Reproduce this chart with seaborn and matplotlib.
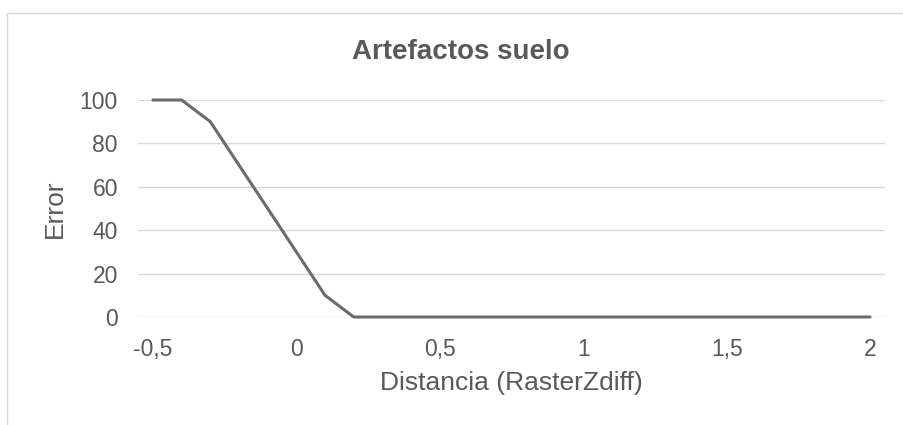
import matplotlib
matplotlib.use("Agg")
import matplotlib.pyplot as plt
import seaborn as sns
import pandas as pd
from matplotlib.ticker import FuncFormatter
from matplotlib.patches import Rectangle

distancia = [-0.5, -0.4, -0.3, -0.2, -0.1, 0.0, 0.1, 0.2, 0.3, 0.4, 0.5, 0.6, 0.7,
             0.8, 0.9, 1.0, 1.1, 1.2, 1.3, 1.4, 1.5, 1.6, 1.7, 1.8, 1.9, 2.0]
error = [100, 100, 90, 70, 50, 30, 10, 0, 0, 0, 0, 0, 0,
         0, 0, 0, 0, 0, 0, 0, 0, 0, 0, 0, 0, 0]
x_ticks = [-0.5, 0, 0.5, 1, 1.5, 2]
y_ticks = [0, 20, 40, 60, 80, 100]

df = pd.DataFrame({"Distancia": distancia, "Error": error})

sns.set_theme(style="white")
plt.rcParams['font.family'] = ['Liberation Sans', 'DejaVu Sans']

text_c = "#595959"
grid_c = "#d9d9d9"
line_c = "#6b6b6b"

fig = plt.figure(figsize=(9.04, 4.25), dpi=100)
fig.patches.append(Rectangle((7/904, -0.1), 1.2, 1 - 13/425 + 0.1, transform=fig.transFigure,
                             fill=False, edgecolor="#d9d9d9", linewidth=1.0))
ax = fig.add_axes([138/904, 1 - 317/425, (885 - 138)/904, (317 - 100)/425])

for yt in y_ticks:
    ax.axhline(yt, color=grid_c, linewidth=1.0, zorder=1)

sns.lineplot(data=df, x="Distancia", y="Error", ax=ax, color=line_c, linewidth=2.2,
             zorder=3, clip_on=False)

ax.set_xlim(-0.552, 2.052)
ax.set_ylim(0, 100)
ax.set_xticks(x_ticks)
ax.set_yticks(y_ticks)
ax.xaxis.set_major_formatter(FuncFormatter(lambda v, p: ("%g" % v).replace(".", ",")))
for s in ax.spines.values():
    s.set_visible(False)
ax.tick_params(axis="both", length=0, labelsize=16.5, colors=text_c)
ax.tick_params(axis="x", pad=15)
ax.tick_params(axis="y", pad=14.4)
ax.set_xlabel("Distancia (RasterZdiff)", fontsize=19, color=text_c)
ax.set_ylabel("Error", fontsize=19, color=text_c)
ax.xaxis.set_label_coords(0.5, (317 - 383) / 217)
ax.xaxis.label.set_va("center")
ax.yaxis.set_label_coords((55 - 138) / 747, 0.5)
ax.yaxis.label.set_va("center")
fig.text(461/904, 1 - 52/425, "Artefactos suelo", ha="center", va="center",
         fontsize=20, fontweight="bold", color=text_c)

fig.savefig("out.png", dpi=100, facecolor="white")
